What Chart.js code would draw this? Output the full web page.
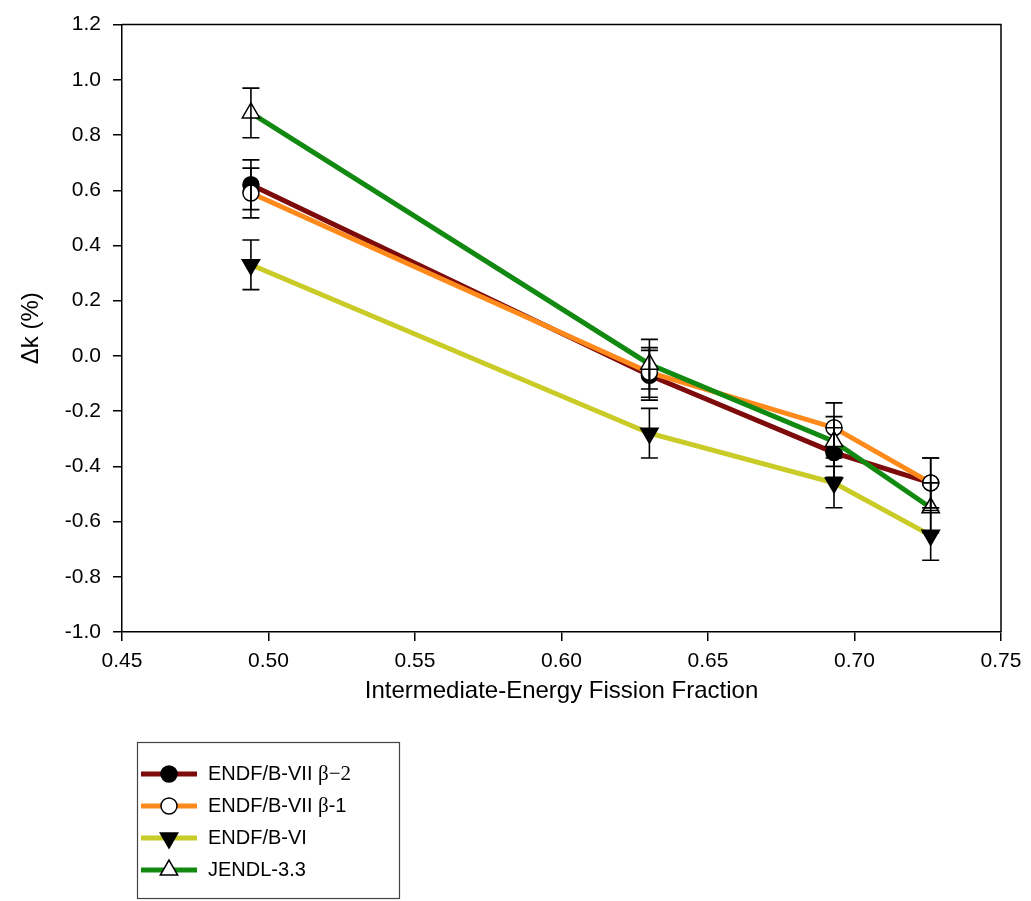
<!DOCTYPE html>
<html>
<head>
<meta charset="utf-8">
<script src="https://cdn.jsdelivr.net/npm/chart.js@4.4.0/dist/chart.umd.min.js"></script>
<style>
  html, body { margin: 0; padding: 0; background: #fff; }
  #wrap { width: 1031px; height: 901px; position: relative; }
</style>
</head>
<body>
<div id="wrap"><canvas id="grafico"></canvas></div>
<script>
// dados
var fracao = [0.494, 0.630, 0.693, 0.726]
var dkB7b2 = [0.62, -0.07, -0.35, -0.46]
var dkB7b1 = [0.59, -0.06, -0.26, -0.46]
var dkB6 = [0.33, -0.28, -0.46, -0.65]
var dkJendl = [0.88, -0.03, -0.31, -0.55]
var erro = [0.09, 0.09, 0.09, 0.09]

var nomes = ['ENDF/B-VII \u03b2\u22122', 'ENDF/B-VII \u03b2-1', 'ENDF/B-VI', 'JENDL-3.3']
var xTicks = [0.45, 0.50, 0.55, 0.60, 0.65, 0.70, 0.75]
var yTicks = [-1.0, -0.8, -0.6, -0.4, -0.2, 0.0, 0.2, 0.4, 0.6, 0.8, 1.0, 1.2]

var sans = '"Liberation Sans", Arial, sans-serif'
var serif = '"Liberation Serif", "Times New Roman", serif'

function pontos(ys) {
  var lista = []
  for (var i = 0; i < fracao.length; i++) {
    lista.push({ x: fracao[i], y: ys[i] })
  }
  return lista
}

function serie(nome, ys, cor, estilo, fundo, rot, ordem) {
  return {
    label: nome,
    data: pontos(ys),
    erros: erro,
    borderColor: cor,
    borderWidth: 5,
    pointStyle: estilo,
    pointRotation: rot,
    pointRadius: estilo == 'circle' ? 8 : 10,
    pointBackgroundColor: fundo,
    pointBorderColor: '#000',
    pointBorderWidth: 1.5,
    tension: 0,
    fill: false,
    order: ordem
  }
}

var dados = {
  datasets: [
    serie(nomes[0], dkB7b2, '#7d0b0b', 'circle', '#000', 0, 4),
    serie(nomes[1], dkB7b1, '#ff8a1c', 'circle', '#fff', 0, 3),
    serie(nomes[2], dkB6, '#c9cb26', 'triangle', '#000', 180, 2),
    serie(nomes[3], dkJendl, '#128a12', 'triangle', '#fff', 0, 1)
  ]
}

// barras de erro + moldura
var barrasErro = {
  id: 'barrasErro',
  afterDatasetsDraw: function (chart) {
    var ctx = chart.ctx
    var sx = chart.scales.x, sy = chart.scales.y
    ctx.save()
    ctx.strokeStyle = '#000'
    ctx.lineWidth = 1.6
    chart.data.datasets.forEach(function (ds) {
      ds.data.forEach(function (p, i) {
        var px = sx.getPixelForValue(p.x)
        var y1 = sy.getPixelForValue(p.y + ds.erros[i])
        var y2 = sy.getPixelForValue(p.y - ds.erros[i])
        ctx.beginPath()
        ctx.moveTo(px, y1); ctx.lineTo(px, y2)
        ctx.moveTo(px - 8.5, y1); ctx.lineTo(px + 8.5, y1)
        ctx.moveTo(px - 8.5, y2); ctx.lineTo(px + 8.5, y2)
        ctx.stroke()
      })
    })
    var a = chart.chartArea
    ctx.lineWidth = 1.5
    ctx.beginPath()
    ctx.moveTo(a.left, a.top); ctx.lineTo(a.right, a.top); ctx.lineTo(a.right, a.bottom)
    ctx.stroke()
    ctx.restore()
  }
}

function marcador(ctx, ds, x, y) {
  ctx.save()
  ctx.fillStyle = ds.pointBackgroundColor
  ctx.strokeStyle = '#000'
  ctx.lineWidth = 1.5
  ctx.beginPath()
  if (ds.pointStyle == 'circle') {
    ctx.arc(x, y, ds.pointRadius, 0, Math.PI * 2)
  } else {
    var r = ds.pointRadius
    var s = ds.pointRotation == 180 ? -1 : 1
    ctx.moveTo(x, y - s * r)
    ctx.lineTo(x + r * 0.866, y + s * r * 0.5)
    ctx.lineTo(x - r * 0.866, y + s * r * 0.5)
    ctx.closePath()
  }
  ctx.fill()
  ctx.stroke()
  ctx.restore()
}

// legenda desenhada a mao (linha + simbolo)
var legenda = {
  id: 'legenda',
  afterDraw: function (chart) {
    var ctx = chart.ctx
    ctx.save()
    ctx.strokeStyle = '#444'
    ctx.lineWidth = 1.2
    ctx.strokeRect(137.5, 742.5, 262, 156)
    var linhas = [774, 806, 838, 870]
    chart.data.datasets.forEach(function (ds, i) {
      var y = linhas[i]
      ctx.strokeStyle = ds.borderColor
      ctx.lineWidth = 5
      ctx.beginPath()
      ctx.moveTo(141, y); ctx.lineTo(197, y)
      ctx.stroke()
      marcador(ctx, ds, 169, y)
      ctx.fillStyle = '#000'
      ctx.textBaseline = 'middle'
      ctx.textAlign = 'left'
      var x = 208
      if (i == 0) {
        ctx.font = '20px ' + sans
        ctx.fillText('ENDF/B-VII ', x, y)
        x += ctx.measureText('ENDF/B-VII ').width
        ctx.font = '21px ' + serif
        ctx.fillText('\u03b2\u22122', x, y)
      } else if (i == 1) {
        ctx.font = '20px ' + sans
        ctx.fillText('ENDF/B-VII ', x, y)
        x += ctx.measureText('ENDF/B-VII ').width
        ctx.font = '21px ' + serif
        ctx.fillText('\u03b2', x, y)
        x += ctx.measureText('\u03b2').width
        ctx.font = '20px ' + sans
        ctx.fillText('-1', x, y)
      } else {
        ctx.font = '20px ' + sans
        ctx.fillText(ds.label, x, y)
      }
    })
    ctx.restore()
  }
}

var config = {
  type: 'line',
  data: dados,
  options: {
    responsive: true,
    maintainAspectRatio: false,
    animation: false,
    layout: { padding: { top: 18, right: 30, bottom: 195, left: 0 } },
    plugins: {
      legend: { display: false },
      tooltip: { enabled: false }
    },
    scales: {
      x: {
        type: 'linear',
        min: 0.45,
        max: 0.75,
        afterFit: function (s) { s.height = 74 },
        afterBuildTicks: function (s) { s.ticks = xTicks.map(function (v) { return { value: v } }) },
        ticks: {
          color: '#000',
          padding: 8,
          font: { family: sans, size: 21 },
          callback: function (v) { return Number(v).toFixed(2) }
        },
        grid: { drawOnChartArea: false, drawTicks: true, tickLength: 9, color: '#000', lineWidth: 1.5 },
        border: { display: true, color: '#000', width: 1.5 },
        title: {
          display: true,
          text: 'Intermediate-Energy Fission Fraction',
          color: '#000',
          font: { family: sans, size: 24 },
          padding: { top: 0, bottom: 0 }
        }
      },
      y: {
        min: -1.0,
        max: 1.2,
        afterFit: function (s) { s.width = 122 },
        afterBuildTicks: function (s) { s.ticks = yTicks.map(function (v) { return { value: v } }) },
        ticks: {
          color: '#000',
          padding: 12,
          font: { family: sans, size: 21 },
          callback: function (v) { return Number(v).toFixed(1) }
        },
        grid: { drawOnChartArea: false, drawTicks: true, tickLength: 9, color: '#000', lineWidth: 1.5 },
        border: { display: true, color: '#000', width: 1.5 },
        title: {
          display: true,
          text: '\u0394k (%)',
          color: '#000',
          font: { family: sans, size: 24 },
          padding: { top: 17, bottom: 0 }
        }
      }
    }
  },
  plugins: [barrasErro, legenda]
}

let grafico = new Chart(document.getElementById('grafico'), config)
</script>
</body>
</html>
